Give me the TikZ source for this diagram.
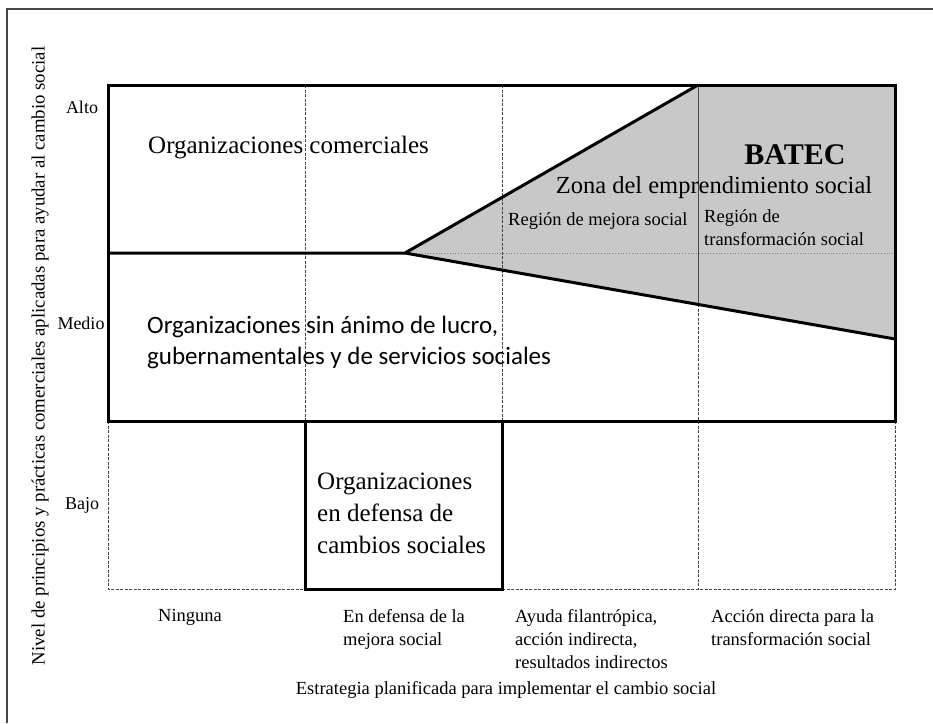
\documentclass[tikz,border=0pt]{standalone}
\usepackage{fontspec}
\setmainfont{Liberation Serif}
\newfontfamily\calibrifont{Carlito}
\definecolor{zonagris}{RGB}{200,200,200}
\definecolor{marco}{RGB}{70,70,70}

\tikzset{
  grueso/.style={line width=3pt},
  guiones/.style={line width=0.9pt, marco, dash pattern=on 3pt off 1.5pt},
  eje/.style={font=\fontsize{18}{22}\selectfont},
  chica/.style={font=\fontsize{18.5}{23}\selectfont},
  grande/.style={font=\fontsize{25}{30}\selectfont},
}

\begin{document}
\begin{tikzpicture}[x=1pt,y=-1pt, every node/.style={inner sep=0pt}]
\useasboundingbox (0,0) rectangle (933,723);
% marco exterior
\draw[line width=1.5pt, marco] (7,723) -- (7,9) -- (933,9);
% zona del emprendimiento social
\coordinate (vertice) at (405,253);
\coordinate (arriba) at (698,85);
\coordinate (abajo) at (895,339);
\fill[zonagris] (vertice) -- (arriba) -- (895,85) -- (abajo) -- cycle;
% divisiones de guiones
\draw[guiones] (305,85) -- (305,421);
\draw[guiones] (502,85) -- (502,421);
\draw[guiones] (698,304) -- (698,589);
\draw[guiones] (108,421) -- (108,589) -- (305,589);
\draw[guiones] (502,589) -- (895,589) -- (895,421);
\draw[line width=0.8pt, marco] (arriba) -- (698,304);
\draw[line width=0.8pt, gray, dotted] (vertice) -- (895,253);
% bordes gruesos
\draw[grueso] (108,85) rectangle (895,421);
\draw[grueso] (108,253) -- (vertice) -- (arriba);
\draw[grueso] (vertice) -- (abajo);
\draw[grueso] (305,421) rectangle (502,589);
% ejes
\node[eje] (alto) at (82,107) {Alto};
\node[eje] (medio) at (81,323) {Medio};
\node[eje] (bajo) at (82,505) {Bajo};
\node[font=\fontsize{18.8}{23}\selectfont, rotate=90] (ejey) at (40,356) {Nivel de principios y prácticas comerciales aplicadas para ayudar al cambio social};
% organizaciones
\node[grande, anchor=base west] (comerciales) at (148,153) {Organizaciones comerciales};
\node[anchor=west, align=left, font=\calibrifont\fontsize{25}{31}\selectfont] (sinlucro) at (147,342) {Organizaciones sin ánimo de lucro,\\gubernamentales y de servicios sociales};
\node[anchor=west, align=left, font=\fontsize{25}{32}\selectfont] (defensa) at (317,513) {Organizaciones\\en defensa de\\cambios sociales};
% zona
\node[font=\bfseries\fontsize{30}{36}\selectfont] (batec) at (795,155) {BATEC};
\node[font=\fontsize{24.5}{29}\selectfont] (zona) at (714,188) {Zona del emprendimiento social};
\node[chica, anchor=west] (mejora) at (508,221) {Región de mejora social};
\node[chica, anchor=west, align=left] (transf) at (704,228) {Región de\\transformación social};
% estrategias
\node[chica, anchor=north west] (ninguna) at (158,609) {Ninguna};
\node[chica, anchor=north west, align=left] (mejoraest) at (343,609) {En defensa de la\\mejora social};
\node[chica, anchor=north west, align=left] (ayuda) at (515,609) {Ayuda filantrópica,\\acción indirecta,\\resultados indirectos};
\node[chica, anchor=north west, align=left] (accion) at (711,609) {Acción directa para la\\transformación social};
\node[chica] (estrategia) at (506,690) {Estrategia planificada para implementar el cambio social};
\end{tikzpicture}
\end{document}
